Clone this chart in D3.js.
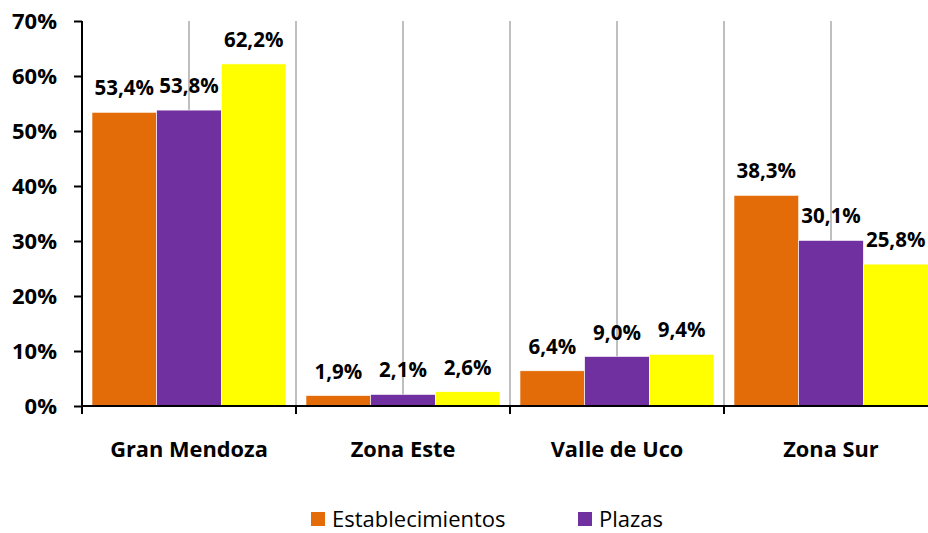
<!DOCTYPE html>
<html>
<head>
<meta charset="utf-8">
<script src="https://cdn.jsdelivr.net/npm/d3@7"></script>
<style>
  body { margin: 0; background: #fff; }
  svg { display: block; font-family: "Open Sans", sans-serif; }
</style>
</head>
<body>
<div id="chart"></div>
<script>
// Datos del gráfico
const categorias = ['Gran Mendoza', 'Zona Este', 'Valle de Uco', 'Zona Sur'];
const series = ['Establecimientos', 'Plazas', 'Otros'];
const establecimientos = [53.4, 1.9, 6.4, 38.3];
const plazas = [53.8, 2.1, 9.0, 30.1];
const otros = [62.2, 2.6, 9.4, 25.8];
const ticksY = [0, 10, 20, 30, 40, 50, 60, 70];
const colores = ['#E36C09', '#7030A0', '#FFFF00'];
const leyenda = ['Establecimientos', 'Plazas'];

const valores = [establecimientos, plazas, otros];
const filas = categorias.map((c, i) => ({
    cat: c,
    vals: series.map((s, j) => ({ serie: s, v: valores[j][i], color: colores[j] }))
}));

const width = 928, height = 533;
const m = { l: 82, t: 21, b: 127 };
const bw = 214;

const svg = d3.select('#chart').append('svg')
    .attr('width', width).attr('height', height);

const x0 = d3.scaleBand().domain(categorias).range([m.l, m.l + bw * categorias.length]).padding(0);
const x1 = d3.scaleBand().domain(series).range([10, 204]).padding(0);
const y = d3.scaleLinear().domain([0, 70]).range([height - m.b, m.t]);

// Líneas verticales de cuadrícula
const gx = [];
categorias.forEach((c, i) => {
    if (i > 0) gx.push(x0(c));
    gx.push(x0(c) + x0.bandwidth() / 2);
});
svg.append('g').selectAll('line').data(gx).join('line')
    .attr('x1', d => d).attr('x2', d => d)
    .attr('y1', y(70)).attr('y2', y(0))
    .attr('stroke', '#bfbfbf').attr('stroke-width', 2);

// Barras
const grupos = svg.append('g').selectAll('g').data(filas).join('g')
    .attr('transform', d => `translate(${x0(d.cat)},0)`);
grupos.selectAll('rect').data(d => d.vals).join('rect')
    .attr('x', d => x1(d.serie))
    .attr('y', d => y(d.v))
    .attr('width', x1.bandwidth())
    .attr('height', d => y(0) - y(d.v))
    .attr('fill', d => d.color)
    .attr('stroke', '#fff').attr('stroke-width', 0.6);

// Etiquetas de datos
grupos.selectAll('text').data(d => d.vals).join('text')
    .attr('x', d => x1(d.serie) + x1.bandwidth() / 2)
    .attr('y', d => y(d.v) - 17)
    .attr('text-anchor', 'middle')
    .attr('font-size', 20.5).attr('font-weight', 'bold')
    .text(d => d.v.toFixed(1).replace('.', ',') + '%');

// Eje Y
const ejeY = svg.append('g').attr('transform', `translate(${m.l},0)`)
    .call(d3.axisLeft(y).tickValues(ticksY).tickSize(8).tickPadding(17)
        .tickFormat(d => d + '%'));
ejeY.select('.domain').attr('stroke', '#000').attr('stroke-width', 2).attr('d', `M0,${y(70)}V${y(0)}`);
ejeY.selectAll('.tick line').attr('stroke', '#000').attr('stroke-width', 2);
ejeY.selectAll('.tick text').attr('font-size', 22).attr('font-weight', 'bold')
    .attr('font-family', '"Open Sans", sans-serif').attr('fill', '#000');

// Eje X
const bordes = categorias.map(c => x0(c)).concat([x0.range()[1]]);
const ejeX = svg.append('g');
ejeX.append('line').attr('x1', m.l).attr('x2', width)
    .attr('y1', y(0)).attr('y2', y(0)).attr('stroke', '#000').attr('stroke-width', 2);
ejeX.selectAll('.tk').data(bordes).join('line').attr('class', 'tk')
    .attr('x1', d => d).attr('x2', d => d)
    .attr('y1', y(0)).attr('y2', y(0) + 8)
    .attr('stroke', '#000').attr('stroke-width', 2);
ejeX.selectAll('text').data(categorias).join('text')
    .attr('x', d => x0(d) + x0.bandwidth() / 2)
    .attr('y', 457)
    .attr('text-anchor', 'middle')
    .attr('font-size', 21.8).attr('font-weight', 'bold')
    .text(d => d);

// Leyenda
const leg = svg.append('g').selectAll('g').data(leyenda).join('g')
    .attr('transform', (d, i) => `translate(${311 + i * 267},512)`);
leg.append('rect').attr('width', 14).attr('height', 14)
    .attr('fill', (d, i) => colores[i]);
leg.append('text').attr('x', 21).attr('y', 14.5)
    .attr('font-size', 22).text(d => d);
</script>
</body>
</html>
